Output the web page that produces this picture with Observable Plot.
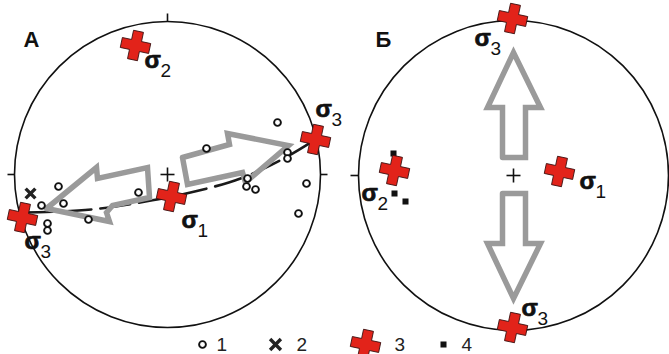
<!DOCTYPE html>
<html>
<head>
<meta charset="utf-8">
<script src="https://cdn.jsdelivr.net/npm/d3@7"></script>
<script src="https://cdn.jsdelivr.net/npm/@observablehq/plot@0.6"></script>
<style>
  html, body { margin: 0; padding: 0; background: #fff; }
  #chart svg { display: block; }
</style>
</head>
<body>
<div id="chart"></div>
<script>
// ---- Data (figure coordinates) ----
const panels = ["А", "Б"];
const panelCenterX = [167, 513];
const panelCenterY = [174, 175];
const panelRadius = [153, 155];
const panelLabelX = [23, 375];
const panelLabelY = [46, 46];

// stereonet edge ticks [x1, y1, x2, y2]
const edgeTicks = [[167, 13, 167, 21], [7, 174, 14, 174], [320, 174, 327, 174], [350, 175, 358, 175]];

// type 1: open circles (panel А)
const poleX = [277, 206, 287, 287, 247, 246, 255, 306, 298, 138, 58, 63, 41, 88, 47, 47];
const poleY = [122, 148, 152, 158, 178, 186, 189, 183, 213, 192, 186, 203, 205, 219, 223, 230];
// type 2: cross mark
const markX = [30];
const markY = [193];
// type 3: principal stress axes
const sigmaName = ["σ2", "σ3", "σ3", "σ1", "σ3", "σ3", "σ2", "σ1"];
const sigmaX = [135, 315, 22, 171, 512, 512, 394, 559];
const sigmaY = [45, 139, 217, 196, 18, 327, 170, 171];
const sigmaLabelX = [144, 315, 24, 181, 474, 521, 361, 579];
const sigmaLabelY = [67, 116, 248, 227, 45, 315, 200, 188];
// type 4: black squares (panel Б)
const squareX = [393, 394, 405];
const squareY = [153, 193, 201];

// dashed great circle (panel А)
const arcX = [22, 60, 100, 145, 190, 240, 285, 315];
const arcY = [212, 211, 208, 201, 192, 178, 157, 139];

// gray arrows (outline polygons)
const arrowLeftX = [46, 96, 97, 147, 149, 112, 106, 109, 46];
const arrowLeftY = [208, 167, 178, 167, 197, 205, 212, 221, 208];
const arrowRightX = [182, 229, 227, 288, 245, 242, 187, 182];
const arrowRightY = [157, 144, 133, 145, 182, 172, 184, 157];
const arrowUpX = [502, 502, 487, 513, 540, 525, 525, 502];
const arrowUpY = [157, 107, 107, 52, 107, 107, 157, 157];
const arrowDownX = [502, 525, 525, 540, 513, 487, 502, 502];
const arrowDownY = [193, 193, 243, 243, 298, 243, 243, 193];

// legend
const legendLabels = ["1", "2", "3", "4"];
const legendSymbolX = [202, 275, 365, 443];
const legendTextX = [216, 296, 394, 461];
const legendY = 344;

// ---- Build tables ----
const circles = panels.map((p, i) => ({x: panelCenterX[i], y: panelCenterY[i], r: panelRadius[i]}));
const centerPlus = [];
panels.forEach((p, i) => {
  centerPlus.push({x1: panelCenterX[i] - 7, y1: panelCenterY[i], x2: panelCenterX[i] + 7, y2: panelCenterY[i]});
  centerPlus.push({x1: panelCenterX[i], y1: panelCenterY[i] - 7, x2: panelCenterX[i], y2: panelCenterY[i] + 7});
});
const ticks = edgeTicks.map(([x1, y1, x2, y2]) => ({x1, y1, x2, y2}));
const poles = poleX.map((x, i) => ({x, y: poleY[i]}));
const marks = markX.map((x, i) => ({x, y: markY[i]}));
const sigmas = sigmaX.map((x, i) => ({x, y: sigmaY[i], name: sigmaName[i], lx: sigmaLabelX[i], ly: sigmaLabelY[i]}));
const squares = squareX.map((x, i) => ({x, y: squareY[i]}));
const arc = arcX.map((x, i) => ({x, y: arcY[i]}));
const arrows = [];
[[arrowLeftX, arrowLeftY, "L"], [arrowRightX, arrowRightY, "R"], [arrowUpX, arrowUpY, "U"], [arrowDownX, arrowDownY, "D"]]
  .forEach(([xs, ys, id]) => xs.forEach((x, i) => arrows.push({id, x, y: ys[i]})));
const legendText = legendLabels.map((t, i) => ({t, x: legendTextX[i], y: legendY}));

// red cross symbol (slightly tilted)
const redCross = {
  draw(ctx, size) {
    const a = Math.sqrt(size / Math.PI), t = a * 0.35, th = 12 * Math.PI / 180;
    const c = Math.cos(th), s = Math.sin(th);
    const pts = [[-t,-a],[t,-a],[t,-t],[a,-t],[a,t],[t,t],[t,a],[-t,a],[-t,t],[-a,t],[-a,-t],[-t,-t]];
    pts.forEach(([x, y], i) => {
      const X = x * c - y * s, Y = x * s + y * c;
      i ? ctx.lineTo(X, Y) : ctx.moveTo(X, Y);
    });
    ctx.closePath();
  }
};

const font = "Arial, 'Liberation Sans', Helvetica, sans-serif";

const chart = Plot.plot({
  width: 669,
  height: 354,
  margin: 0,
  x: {domain: [0, 669], range: [0, 669], axis: null},
  y: {domain: [0, 354], range: [0, 354], axis: null},
  r: {type: "identity"},
  style: {fontFamily: font, background: "white"},
  marks: [
    Plot.dot(circles, {x: "x", y: "y", r: "r", fill: "none", stroke: "#111", strokeWidth: 1.6}),
    Plot.link(ticks, {x1: "x1", y1: "y1", x2: "x2", y2: "y2", stroke: "#111", strokeWidth: 1.6}),
    Plot.link(centerPlus, {x1: "x1", y1: "y1", x2: "x2", y2: "y2", stroke: "#111", strokeWidth: 1.6}),
    Plot.line(arc, {x: "x", y: "y", curve: "catmull-rom", stroke: "#1a1a1a", strokeWidth: 2.6, strokeDasharray: "30,9"}),
    Plot.line(arrows, {x: "x", y: "y", z: "id", stroke: "#9a9a9a", strokeWidth: 5.5, strokeLinejoin: "miter", strokeMiterlimit: 10}),
    Plot.dot(poles, {x: "x", y: "y", r: 3.4, fill: "white", stroke: "#111", strokeWidth: 1.9}),
    Plot.dot(marks, {x: "x", y: "y", r: 4.5, symbol: "times", stroke: "#222", strokeWidth: 3.4}),
    Plot.dot(squares, {x: "x", y: "y", r: 3.4, symbol: "square", fill: "#111"}),
    Plot.dot(sigmas, {x: "x", y: "y", r: 14.5, symbol: redCross, fill: "#e2231a", stroke: "#3a1010", strokeWidth: 0.9}),
    Plot.text(sigmas, {x: "lx", y: "ly", text: d => d.name[0], textAnchor: "start", lineAnchor: "bottom", fontSize: 24, fontWeight: "bold", fill: "#111", stroke: "#111", strokeWidth: 0.7}),
    Plot.text(sigmas, {x: d => d.lx + 16, y: d => d.ly + 9, text: d => d.name[1], textAnchor: "start", lineAnchor: "bottom", fontSize: 19, fill: "#111"}),
    Plot.text(panels, {x: (d, i) => panelLabelX[i], y: (d, i) => panelLabelY[i], text: d => d, textAnchor: "start", lineAnchor: "bottom", fontSize: 22, fontWeight: "bold", fill: "#111"}),
    // legend
    Plot.dot([{x: legendSymbolX[0], y: legendY}], {x: "x", y: "y", r: 3.4, fill: "white", stroke: "#111", strokeWidth: 1.9}),
    Plot.dot([{x: legendSymbolX[1], y: legendY}], {x: "x", y: "y", r: 5, symbol: "times", stroke: "#222", strokeWidth: 3.4}),
    Plot.dot([{x: legendSymbolX[2], y: legendY}], {x: "x", y: "y", r: 14.5, symbol: redCross, fill: "#e2231a", stroke: "#3a1010", strokeWidth: 0.9}),
    Plot.dot([{x: legendSymbolX[3], y: legendY}], {x: "x", y: "y", r: 3.4, symbol: "square", fill: "#111"}),
    Plot.text(legendText, {x: "x", y: d => d.y + 6, text: "t", textAnchor: "start", lineAnchor: "bottom", fontSize: 19, fill: "#222"})
  ]
});
document.getElementById("chart").appendChild(chart);
</script>
</body>
</html>
